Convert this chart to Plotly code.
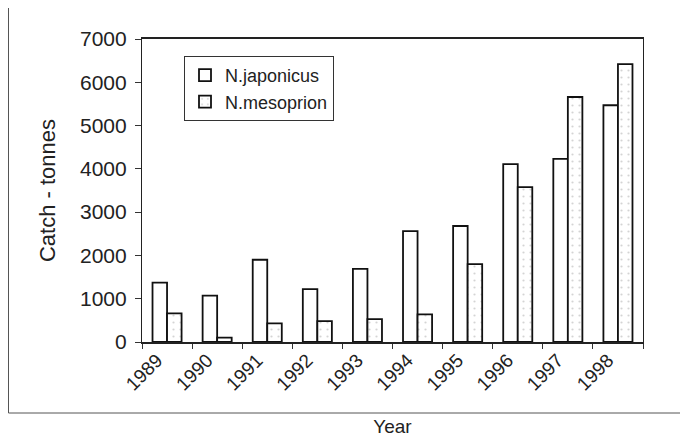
import plotly.graph_objects as go

years = ["1989", "1990", "1991", "1992", "1993", "1994", "1995", "1996", "1997", "1998"]
japonicus = [1370, 1070, 1900, 1220, 1690, 2560, 2680, 4110, 4230, 5470]
mesoprion = [660, 100, 430, 480, 530, 640, 1800, 3580, 5660, 6420]
y_ticks = [0, 1000, 2000, 3000, 4000, 5000, 6000, 7000]

OFF = 8  # page body margin
W, H = 688, 437
L, R, T, B = 142, 45, 39, 95
pw, ph = W - L - R, H - T - B

def px_x(p):
    return (p - L) / pw

def px_y(p):
    return (H - B - p) / ph

font = "Liberation Sans, Arial, sans-serif"

fig = go.Figure()
fig.add_trace(go.Bar(
    x=years, y=japonicus, name="N.japonicus",
    marker=dict(color="white", line=dict(color="#111", width=1.8)),
))
fig.add_trace(go.Bar(
    x=years, y=mesoprion, name="N.mesoprion",
    marker=dict(color="white", line=dict(color="#111", width=1.8),
                pattern=dict(shape=".", fgcolor="#aaa", bgcolor="white", size=7, solidity=0.08)),
))

fig.update_layout(
    width=W - OFF, height=H - OFF,
    margin=dict(l=L - OFF, r=R, t=T - OFF, b=B),
    paper_bgcolor="white", plot_bgcolor="white",
    barmode="group", bargap=0.42, bargroupgap=0,
    font=dict(family=font, size=19, color="#222"),
    showlegend=True,
    legend=dict(x=px_x(184), y=px_y(56), xanchor="left", yanchor="top",
                bordercolor="#333", borderwidth=1, bgcolor="white",
                font=dict(size=18), tracegroupgap=0, itemwidth=30),
    xaxis=dict(type="category", tickangle=-45, ticks="outside", ticklen=5,
               tickson="boundaries", tickcolor="#333", showline=True, linecolor="#222",
               linewidth=1.5, mirror=True, showgrid=False, automargin=False,
               tickfont=dict(size=19), ticklabelshift=-10, ticklabelstandoff=-2,
               title=dict(text="Year", standoff=28, font=dict(size=19))),
    yaxis=dict(range=[0, 7000], tickvals=y_ticks, ticks="outside", ticklen=6,
               tickcolor="#333", showline=True, linecolor="#222", linewidth=1.2,
               mirror=True, showgrid=False, automargin=False, tickfont=dict(size=21),
               ticklabelstandoff=4,
               title=dict(text="Catch - tonnes", standoff=18, font=dict(size=22))),
    shapes=[dict(type="rect", xref="paper", yref="paper",
                 x0=px_x(8.5), x1=px_x(700), y0=px_y(413), y1=px_y(7),
                 line=dict(color="#555", width=1), layer="below")],
)

fig.write_html("out.html")
